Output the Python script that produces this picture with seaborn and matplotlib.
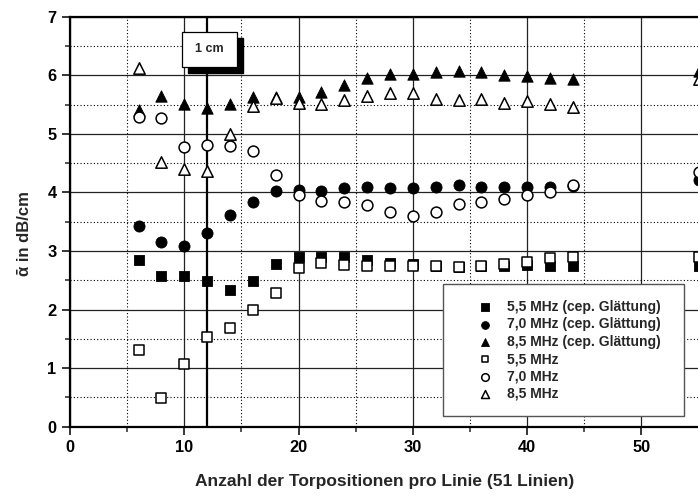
import matplotlib
matplotlib.use("Agg")
import matplotlib.pyplot as plt
import matplotlib.transforms as mtransforms
from matplotlib.patches import Rectangle
from matplotlib.ticker import MultipleLocator
import numpy as np
import pandas as pd
import seaborn as sns

# ---- data ----
positions = [6, 8, 10, 12, 14, 16, 18, 20, 22, 24, 26, 28, 30, 32, 34, 36, 38, 40, 42, 44, 55]

sq_filled = [2.84, 2.58, 2.58, 2.48, 2.33, 2.49, 2.78, 2.90, 2.90, 2.89, 2.84,
             2.80, 2.77, 2.74, 2.73, 2.74, 2.74, 2.76, 2.75, 2.75, 2.74]
ci_filled = [3.43, 3.15, 3.08, 3.30, 3.61, 3.84, 4.02, 4.04, 4.03, 4.08, 4.09,
             4.07, 4.07, 4.10, 4.13, 4.10, 4.09, 4.10, 4.10, 4.11, 4.22]
tr_filled = [5.40, 5.64, 5.51, 5.44, 5.51, 5.63, 5.63, 5.63, 5.71, 5.84, 5.95,
             6.02, 6.02, 6.05, 6.07, 6.05, 6.01, 5.98, 5.95, 5.93, 6.07]
sq_open = [1.31, 0.49, 1.07, 1.54, 1.68, 1.99, 2.29, 2.71, 2.79, 2.76, 2.74,
           2.74, 2.74, 2.74, 2.73, 2.75, 2.77, 2.82, 2.88, 2.90, 2.90]
ci_open = [5.28, 5.27, 4.78, 4.81, 4.80, 4.71, 4.29, 3.95, 3.86, 3.84, 3.78,
           3.66, 3.60, 3.67, 3.80, 3.84, 3.88, 3.95, 4.00, 4.13, 4.34]
tr_open = [6.13, 4.52, 4.40, 4.37, 5.00, 5.48, 5.62, 5.52, 5.51, 5.58, 5.65,
           5.70, 5.70, 5.60, 5.58, 5.59, 5.52, 5.56, 5.51, 5.45, 5.93]

labels = ["5,5 MHz (cep. Glättung)", "7,0 MHz (cep. Glättung)", "8,5 MHz (cep. Glättung)",
          "5,5 MHz", "7,0 MHz", "8,5 MHz"]
xticks = [0, 10, 20, 30, 40, 50]
yticks = [0, 1, 2, 3, 4, 5, 6, 7]
marker_line_x = 12
box_text = "1 cm"

series = [
    (sq_filled, "s", True, 7.4),
    (ci_filled, "o", True, 8.0),
    (tr_filled, "^", True, 8.2),
    (sq_open, "s", False, 6.8),
    (ci_open, "o", False, 7.8),
    (tr_open, "^", False, 8.2),
]

sns.set_theme(style="white")
plt.rcParams["font.family"] = ["Liberation Sans", "DejaVu Sans"]
plt.rcParams["font.weight"] = "bold"

fig = plt.figure(figsize=(6.98, 4.96), dpi=100)
ax = fig.add_axes([70 / 698, (496 - 426.7) / 496, 628.6 / 698, 410 / 496])

for (vals, m, filled, ms), lab in zip(series, labels):
    df = pd.DataFrame({"x": positions, "y": vals})
    if filled:
        sns.scatterplot(data=df, x="x", y="y", marker=m, s=ms ** 2, color="black",
                        edgecolor="black", linewidth=0.6, ax=ax, label=lab, zorder=4)
    else:
        sns.scatterplot(data=df, x="x", y="y", marker=m, s=ms ** 2, facecolor="white",
                        edgecolor="black", linewidth=1.1, ax=ax, label=lab, zorder=5)

ax.set_xlim(0, 55)
ax.set_ylim(0, 7)
ax.set_xticks(xticks)
ax.set_yticks(yticks)
ax.xaxis.set_minor_locator(MultipleLocator(5))
ax.yaxis.set_minor_locator(MultipleLocator(0.5))
ax.grid(which="major", color="#222222", linewidth=0.9, linestyle="-", zorder=0)
ax.grid(which="minor", color="black", linewidth=0.8, linestyle=(0, (1, 2)), zorder=0)
ax.set_axisbelow(True)

ax.tick_params(which="major", direction="out", length=5.8, width=1.1, pad=4,
               labelsize=11.8, bottom=True, left=True, colors="black")
ax.tick_params(which="minor", direction="out", length=3.6, width=1.1,
               bottom=True, left=True)
for lbl in ax.get_xticklabels() + ax.get_yticklabels():
    lbl.set_fontweight("bold")

for side in ["left", "bottom", "top"]:
    ax.spines[side].set_visible(True)
    ax.spines[side].set_color("black")
    ax.spines[side].set_linewidth(1.6)
ax.spines["right"].set_visible(False)

ax.set_xlabel("Anzahl der Torpositionen pro Linie (51 Linien)", fontsize=12.5,
              fontweight="bold")
ax.set_ylabel("ᾱ in dB/cm", fontsize=12, fontweight="bold",
              family=["Liberation Sans", "DejaVu Sans"])
ax.xaxis.set_label_coords(0.501, -0.133)
ax.xaxis.label.set_va("center")
ax.yaxis.set_label_coords(-0.0716, 0.47)
ax.yaxis.label.set_va("center")

# thick vertical line
ax.axvline(marker_line_x, color="black", linewidth=1.6, zorder=2)

# "1 cm" box with shadow
bx0, bx1, by0, by1 = 9.77, 14.58, 6.14, 6.74
shadow_tr = ax.transData + mtransforms.ScaledTranslation(4.4 / 72, -4.4 / 72, fig.dpi_scale_trans)
ax.add_patch(Rectangle((bx0, by0), bx1 - bx0, by1 - by0, transform=shadow_tr,
                       facecolor="black", edgecolor="black", zorder=6))
ax.add_patch(Rectangle((bx0, by0), bx1 - bx0, by1 - by0, facecolor="white",
                       edgecolor="black", linewidth=0.9, zorder=7))
ax.text((bx0 + bx1) / 2, (by0 + by1) / 2, box_text, ha="center", va="center",
        fontsize=9, fontweight="bold", zorder=8)

# legend frame + legend
ax.add_patch(Rectangle((0.593, 0.027), 0.383, 0.320, transform=ax.transAxes,
                       facecolor="white", edgecolor="#555555", linewidth=1.0, zorder=9))
leg = ax.legend(loc="upper left", bbox_to_anchor=((476.0 - 70) / 628.6, 0.309),
                frameon=False, handlelength=1.3, handletextpad=0.9,
                labelspacing=0.24, borderpad=0, borderaxespad=0, markerscale=0.7,
                prop={"weight": "bold", "size": 10})
leg.set_zorder(10)

fig.savefig("out.png", dpi=100)
